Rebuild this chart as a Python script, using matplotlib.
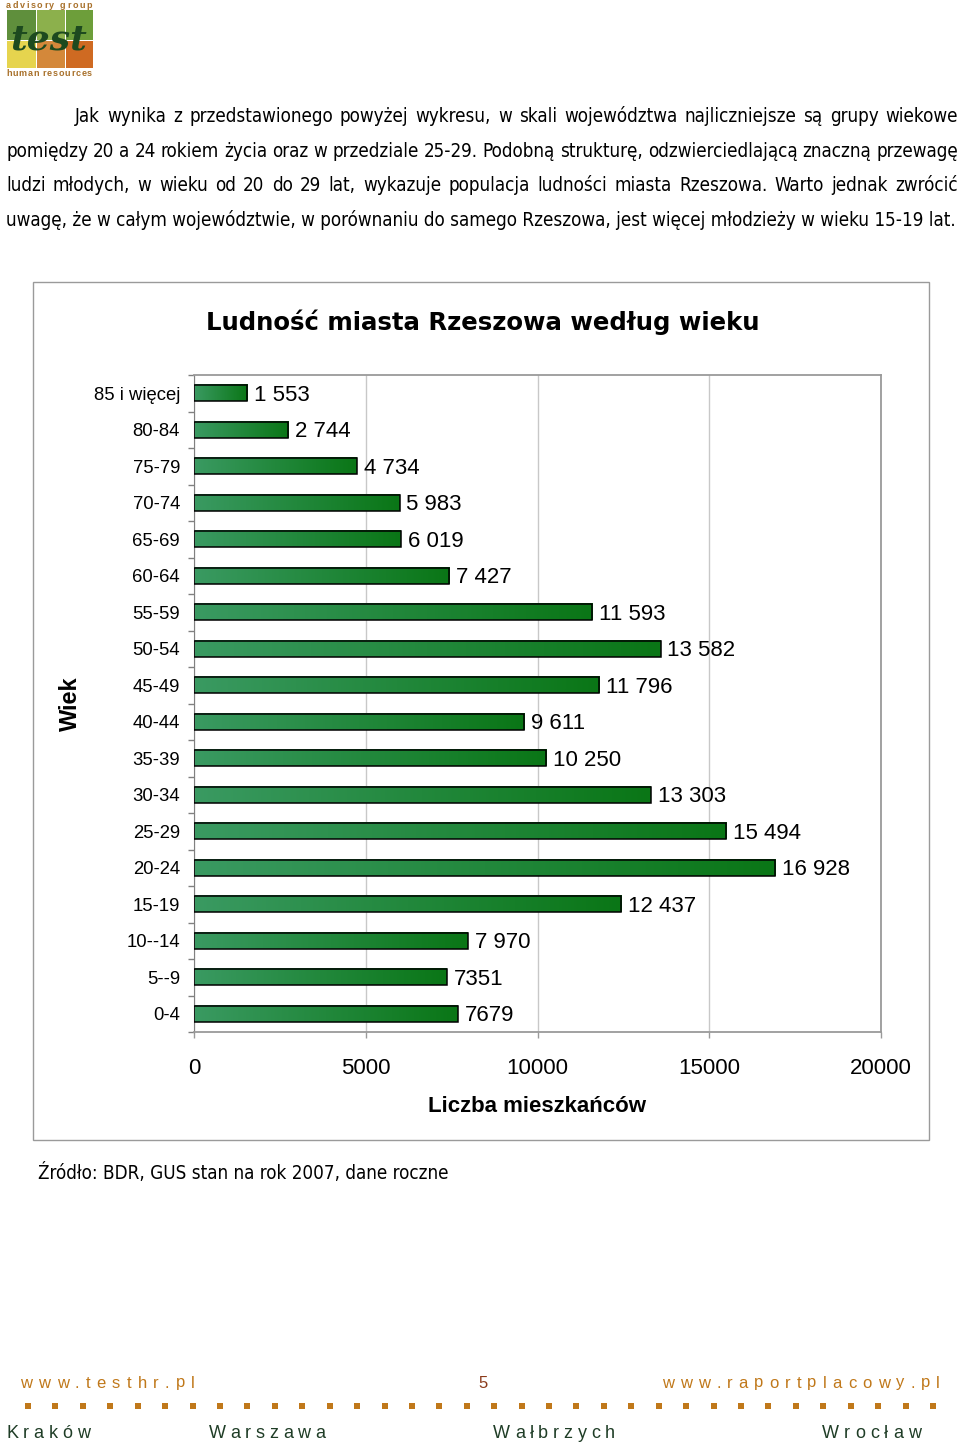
import numpy as np
import matplotlib
matplotlib.use("Agg")
import matplotlib.pyplot as plt
from matplotlib.colors import LinearSegmentedColormap
from matplotlib.patches import Rectangle

# chart data (top to bottom, as in the picture)
age_groups = ["85 i więcej", "80-84", "75-79", "70-74", "65-69", "60-64",
              "55-59", "50-54", "45-49", "40-44", "35-39", "30-34",
              "25-29", "20-24", "15-19", "10--14", "5--9", "0-4"]
residents = [1553, 2744, 4734, 5983, 6019, 7427, 11593, 13582, 11796,
             9611, 10250, 13303, 15494, 16928, 12437, 7970, 7351, 7679]
value_labels = ["1 553", "2 744", "4 734", "5 983", "6 019", "7 427",
                "11 593", "13 582", "11 796", "9 611", "10 250", "13 303",
                "15 494", "16 928", "12 437", "7 970", "7351", "7679"]
x_ticks = [0, 5000, 10000, 15000, 20000]

title = "Ludność miasta Rzeszowa według wieku"
intro = [
    "Jak wynika z przedstawionego powyżej wykresu, w skali województwa najliczniejsze są grupy wiekowe",
    "pomiędzy 20 a 24 rokiem życia oraz w przedziale 25-29. Podobną strukturę, odzwierciedlającą znaczną przewagę",
    "ludzi młodych, w wieku od 20 do 29 lat, wykazuje populacja ludności miasta Rzeszowa. Warto jednak zwrócić",
    "uwagę, że w całym województwie, w porównaniu do samego Rzeszowa, jest więcej młodzieży w wieku 15-19 lat.",
]
source = "Źródło: BDR, GUS stan na rok 2007, dane roczne"

ORANGE = "#c0781a"
DARK_GREEN = "#1f3d26"
GRAY = "#9a9a9a"

plt.rcParams["font.family"] = ["Liberation Sans", "DejaVu Sans"]

W, H = 960, 1446
fig = plt.figure(figsize=(W / 100, H / 100), dpi=100)
page = fig.add_axes([0, 0, 1, 1])
page.set_xlim(0, W)
page.set_ylim(H, 0)
page.axis("off")
renderer = fig.canvas.get_renderer()


def text_width(s, **kw):
    t = page.text(0, 0, s, **kw)
    w = t.get_window_extent(renderer).width
    t.remove()
    return w


def justify(line, x0, x1, y, **kw):
    words = line.split()
    widths = [text_width(w, **kw) for w in words]
    gap = (x1 - x0 - sum(widths)) / (len(words) - 1)
    x = x0
    for w, wd in zip(words, widths):
        page.text(x, y, w, ha="left", va="center", **kw)
        x += wd + gap


def tracked(s, x0, x1, y, **kw):
    # letter-spaced text stretched to span x0..x1
    widths = [text_width(c, **kw) for c in s]
    extra = (x1 - x0 - sum(widths)) / (len(s) - 1)
    x = x0
    for c, wd in zip(s, widths):
        page.text(x, y, c, ha="left", va="center", **kw)
        x += wd + extra


# --- logo ---
logo_cols = [(7, 29), (37, 28), (66, 27)]
logo_top = ["#5f8f3c", "#8cb04c", "#6d9e3a"]
logo_bot = ["#e6d44e", "#d4883a", "#cf6a22"]
for (x, w), ct, cb in zip(logo_cols, logo_top, logo_bot):
    page.add_patch(Rectangle((x, 10), w, 30, color=ct, lw=0))
    page.add_patch(Rectangle((x, 41), w, 27, color=cb, lw=0))
page.text(49, 40, "test", ha="center", va="center", size=26, color="#1d4a1f",
          family="DejaVu Serif", style="italic", weight="bold")
tracked("advisory group", 6, 92, 5, size=6.5, color="#a8702a", weight="bold")
tracked("human resources", 6, 92, 73, size=6.5, color="#a8702a", weight="bold")

# --- intro paragraph ---
body = dict(family="DejaVu Sans", stretch="condensed", color="black")
body_size = 13 * 949 / text_width(intro[3], size=13, **body)
line_y = [116.5, 151.5, 185.5, 219.5]
justify(intro[0], 75, 958, line_y[0], size=body_size, **body)
justify(intro[1], 6, 958, line_y[1], size=body_size, **body)
justify(intro[2], 6, 958, line_y[2], size=body_size, **body)
page.text(6, line_y[3], intro[3], ha="left", va="center", size=body_size, **body)

# --- chart frame and title ---
page.add_patch(Rectangle((33, 282), 896, 858, fill=False, edgecolor=GRAY, lw=1))
page.text(483, 322, title, ha="center", va="center", size=17.6, weight="bold",
          family="DejaVu Sans")
page.text(38, 1173, source, ha="left", va="center", size=body_size, **body)

# --- bar chart ---
ax = fig.add_axes([194 / W, 1 - 1032 / H, 687 / W, 657 / H])
y = np.arange(len(age_groups))
bars = ax.barh(y, residents, height=0.44, facecolor="none", edgecolor="black",
               lw=1.1, zorder=3)
cmap = LinearSegmentedColormap.from_list("bar", ["#3a9a62", "#0a7616"])
grad = np.linspace(0, 1, 256).reshape(1, -1)
for b in bars:
    ax.imshow(grad, cmap=cmap, aspect="auto", zorder=2, interpolation="bicubic",
              extent=[b.get_x(), b.get_x() + b.get_width(),
                      b.get_y() + b.get_height(), b.get_y()])
for b, lab in zip(bars, value_labels):
    ax.annotate(lab, (b.get_width(), b.get_y() + b.get_height() / 2),
                xytext=(5, -1.5), textcoords="offset points",
                ha="left", va="center", size=16)

ax.set_xlim(0, 20000)
ax.set_ylim(len(age_groups) - 0.5, -0.5)
ax.set_xticks(x_ticks)
ax.set_xticklabels([str(t) for t in x_ticks])
ax.set_yticks(y)
ax.set_yticklabels(age_groups)
ax.set_yticks(np.arange(-0.5, len(age_groups)), minor=True)
ax.tick_params(axis="y", which="major", length=0, pad=10, labelsize=13.3)
ax.tick_params(axis="y", which="minor", length=4, color="#808080", width=1)
ax.tick_params(axis="x", length=4.5, color=GRAY, width=1, pad=14, labelsize=16)
ax.grid(axis="x", color="#c8c8c8", lw=1)
ax.set_axisbelow(True)
for side in ["top", "right", "bottom"]:
    ax.spines[side].set_color(GRAY)
    ax.spines[side].set_linewidth(1.3)
ax.spines["left"].set_color("#808080")

ax.set_xlabel("Liczba mieszkańców", size=16, weight="bold")
ax.xaxis.set_label_coords(0.5, -0.0974)
ax.xaxis.label.set_va("top")
ax.set_ylabel("Wiek", size=17, weight="bold")
ax.yaxis.set_label_coords(-0.1627, 0.5)

# --- footer ---
tracked("www.testhr.pl", 20, 195, 1383, size=12, color=ORANGE)
page.text(483, 1383, "5", ha="center", va="center", size=12, color="#8b3a1a")
tracked("www.raportplacowy.pl", 662, 940, 1383, size=12, color=ORANGE)
page.scatter(np.linspace(28, 933, 34), np.full(34, 1406), marker="s", s=19,
             color=ORANGE, lw=0)
city_kw = dict(size=13, color=DARK_GREEN)
tracked("Kraków", 6, 90, 1433, **city_kw)
tracked("Warszawa", 209, 325, 1433, **city_kw)
tracked("Wałbrzych", 493, 615, 1433, **city_kw)
tracked("Wrocław", 822, 921, 1433, **city_kw)

fig.savefig("out.png", dpi=100)
